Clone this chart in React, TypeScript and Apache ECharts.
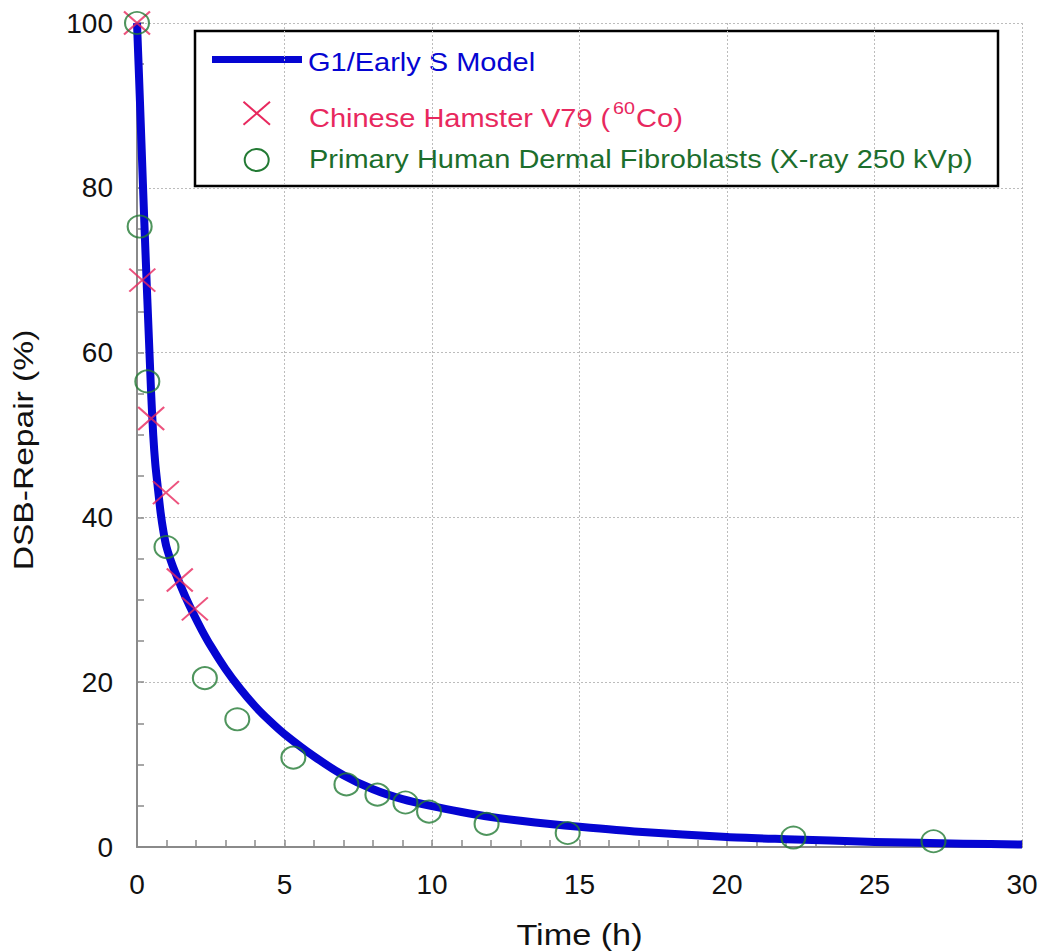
import React, { useEffect, useRef } from "react";
import * as echarts from "echarts";

// G1/Early S model curve (time in h, DSB repair in %)
const modelTime = [0, 0.1, 0.2, 0.3, 0.4, 0.48, 0.55, 0.62, 0.7, 0.8, 0.9, 1.0, 1.2, 1.4, 1.65, 1.9, 2.2, 2.5, 3.0, 3.5, 4.0, 4.5, 5, 6, 7, 8, 9, 10, 11, 12, 13, 14, 15, 17, 20, 22, 25, 28, 30];
const modelRepair = [100, 90.5, 80.5, 71, 62, 55, 50, 46.5, 43.8, 40.6, 38.2, 36.4, 34.2, 32.4, 30.3, 28.4, 26.3, 24.4, 21.6, 19.2, 17.1, 15.3, 13.7, 11.0, 8.7, 7.0, 5.8, 4.95, 4.25, 3.65, 3.18, 2.8, 2.45, 1.85, 1.2, 0.95, 0.62, 0.4, 0.3];

// Chinese Hamster V79 (60Co)
const v79Time = [0, 0.18, 0.48, 0.98, 1.45, 1.96];
const v79Repair = [100, 68.8, 52.0, 43.0, 32.4, 28.9];

// Primary Human Dermal Fibroblasts (X-ray 250 kVp)
const fibroTime = [0, 0.09, 0.35, 1.0, 2.3, 3.4, 5.3, 7.1, 8.15, 9.1, 9.9, 11.85, 14.6, 22.25, 27.0];
const fibroRepair = [100, 75.3, 56.5, 36.4, 20.5, 15.5, 10.85, 7.6, 6.35, 5.4, 4.3, 2.8, 1.7, 1.15, 0.7];

const legendNames = [
  "G1/Early S Model",
  "Chinese Hamster V79 (",
  "60",
  "Co)",
  "Primary Human Dermal Fibroblasts (X-ray 250 kVp)",
];
const xTitle = "Time (h)";
const yTitle = "DSB-Repair (%)";

const FONT = "'Liberation Sans', Arial, Helvetica, sans-serif";
const BLUE = "#0505d2";
const PINK = "#e8285e";
const GREEN = "#237a34";
const GREEN_TEXT = "#1c6e2c";
const AXIS = "#8a8a8a";

const pairs = (xs: number[], ys: number[]) => xs.map((x, i) => [x, ys[i]]);

export default function App() {
  const ref = useRef<HTMLDivElement>(null);

  useEffect(() => {
    document.body.style.margin = "0";
    document.body.style.overflow = "hidden";
    const chart = echarts.init(ref.current!, null, { renderer: "svg" });

    const axisCommon = {
      type: "value" as const,
      axisLine: { show: true, onZero: false, lineStyle: { color: AXIS, width: 2 } },
      axisTick: { show: true, inside: true, length: 7, lineStyle: { color: AXIS, width: 1.5 } },
      minorTick: { show: true, length: 7, lineStyle: { color: AXIS, width: 1.5 } },
      splitLine: { show: true, lineStyle: { color: "#bcbcbc", width: 1, type: [2, 2] as any } },
      minorSplitLine: { show: false },
    };

    const option: any = {
      animation: false,
      backgroundColor: "#ffffff",
      grid: { left: 137, right: 23, top: 23, bottom: 104, containLabel: false },
      xAxis: {
        ...axisCommon,
        min: 0,
        max: 30,
        interval: 5,
        minorTick: { ...axisCommon.minorTick, splitNumber: 5 },
        axisLabel: { fontSize: 28, color: "#111", fontFamily: FONT, margin: 23 },
      },
      yAxis: {
        ...axisCommon,
        min: 0,
        max: 100,
        interval: 20,
        minorTick: { ...axisCommon.minorTick, splitNumber: 4 },
        axisLabel: { fontSize: 28, color: "#111", fontFamily: FONT, margin: 24 },
      },
      series: [
        {
          name: legendNames[0],
          type: "line",
          data: pairs(modelTime, modelRepair),
          showSymbol: false,
          smooth: 0.25,
          clip: false,
          lineStyle: { color: BLUE, width: 8, cap: "butt", join: "round" },
          z: 2,
        },
        {
          name: "Chinese Hamster V79 (60Co)",
          type: "scatter",
          data: pairs(v79Time, v79Repair),
          symbol: "path://M0 0L10 10M10 0L0 10",
          symbolSize: [26, 23],
          symbolKeepAspect: false,
          clip: false,
          itemStyle: { color: "transparent", borderColor: PINK, borderWidth: 2 },
          z: 3,
        },
        {
          name: legendNames[4],
          type: "scatter",
          data: pairs(fibroTime, fibroRepair),
          symbol: "circle",
          symbolSize: [24, 22],
          clip: false,
          itemStyle: { color: "transparent", borderColor: GREEN, borderWidth: 2 },
          z: 4,
        },
      ],
      graphic: [
        {
          type: "group",
          z: 100,
          children: [
            {
              type: "rect",
              shape: { x: 195, y: 31, width: 803, height: 155 },
              style: { fill: "#ffffff", stroke: "#000000", lineWidth: 2.5 },
            },
            {
              type: "line",
              shape: { x1: 212, y1: 59.5, x2: 302, y2: 59.5 },
              style: { stroke: BLUE, lineWidth: 7 },
            },
            {
              type: "text",
              x: 308,
              y: 62,
              scaleX: 1.16,
              style: {
                text: legendNames[0],
                fill: BLUE,
                fontSize: 25,
                fontFamily: FONT,
                align: "left",
                verticalAlign: "middle",
              },
            },
            {
              type: "line",
              shape: { x1: 243.5, y1: 101.8, x2: 270, y2: 124.8 },
              style: { stroke: PINK, lineWidth: 2 },
            },
            {
              type: "line",
              shape: { x1: 270, y1: 101.8, x2: 243.5, y2: 124.8 },
              style: { stroke: PINK, lineWidth: 2 },
            },
            {
              type: "group",
              x: 309,
              y: 0,
              scaleX: 1.16,
              children: [
                {
                  type: "text",
                  x: 0,
                  y: 118,
                  style: {
                    text: legendNames[1],
                    fill: PINK,
                    fontSize: 25,
                    fontFamily: FONT,
                    align: "left",
                    verticalAlign: "middle",
                  },
                },
                {
                  type: "text",
                  x: 262,
                  y: 107.5,
                  style: {
                    text: legendNames[2],
                    fill: PINK,
                    fontSize: 17,
                    fontFamily: FONT,
                    align: "left",
                    verticalAlign: "middle",
                  },
                },
                {
                  type: "text",
                  x: 282,
                  y: 118,
                  style: {
                    text: legendNames[3],
                    fill: PINK,
                    fontSize: 25,
                    fontFamily: FONT,
                    align: "left",
                    verticalAlign: "middle",
                  },
                },
              ],
            },
            {
              type: "ellipse",
              shape: { cx: 256.7, cy: 160, rx: 12, ry: 11 },
              style: { fill: "none", stroke: GREEN, lineWidth: 2 },
            },
            {
              type: "text",
              x: 309,
              y: 159.6,
              scaleX: 1.16,
              style: {
                text: legendNames[4],
                fill: GREEN_TEXT,
                fontSize: 25,
                fontFamily: FONT,
                align: "left",
                verticalAlign: "middle",
              },
            },
          ],
        },
        {
          type: "text",
          x: 579.5,
          y: 934.5,
          scaleX: 1.18,
          z: 100,
          style: {
            text: xTitle,
            fill: "#111",
            fontSize: 29,
            fontFamily: FONT,
            align: "center",
            verticalAlign: "middle",
          },
        },
        {
          type: "text",
          x: 23.5,
          y: 450,
          rotation: Math.PI / 2,
          scaleX: 1.2,
          z: 100,
          style: {
            text: yTitle,
            fill: "#111",
            fontSize: 28,
            fontFamily: FONT,
            align: "center",
            verticalAlign: "middle",
          },
        },
      ],
    };

    chart.setOption(option);
    return () => chart.dispose();
  }, []);

  return <div ref={ref} style={{ width: 1045, height: 951 }} />;
}
